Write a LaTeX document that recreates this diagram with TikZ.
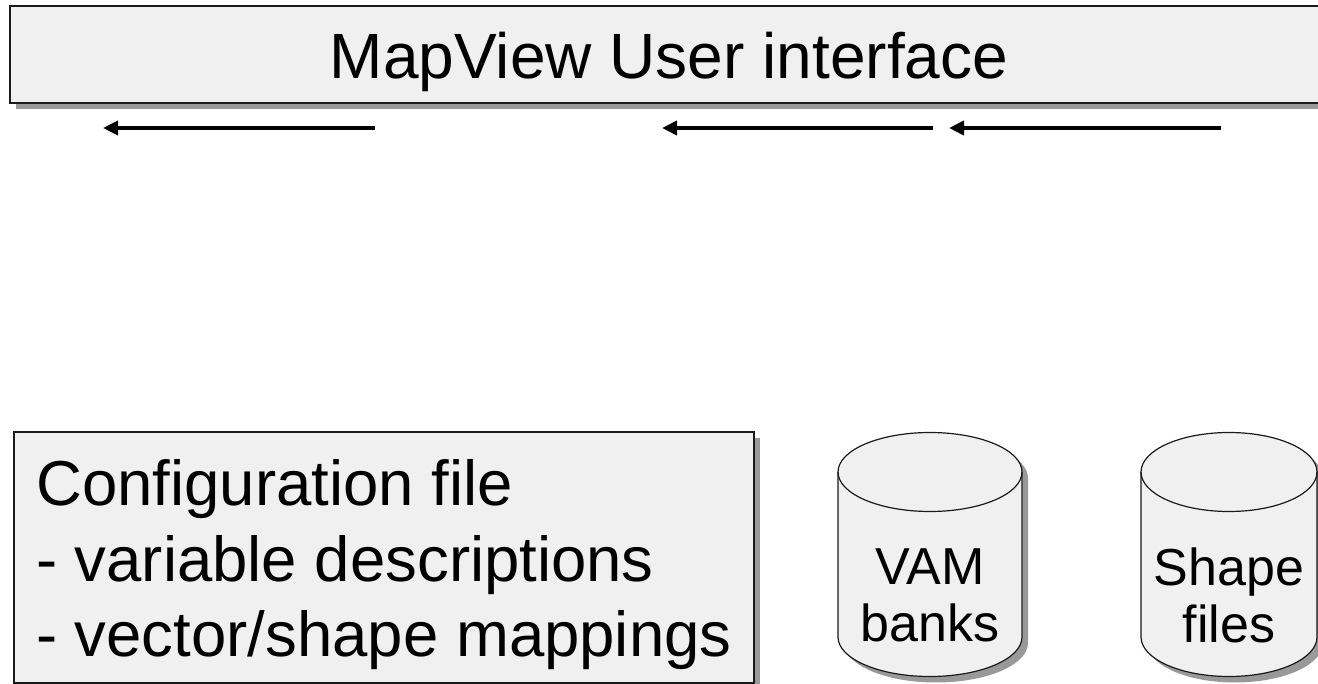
\documentclass[tikz,border=0pt]{standalone}
\usepackage{fontspec}
\setmainfont{Liberation Sans}
\usepackage{tikz}
\usetikzlibrary{arrows.meta,shadows}
\definecolor{boxfill}{RGB}{240,240,240}
\definecolor{shade}{RGB}{153,153,153}
\definecolor{edge}{RGB}{26,26,26}
\tikzset{panel/.style={draw=edge,line width=1.5pt,fill=boxfill,general shadow={fill=shade,draw=none,shadow xshift=6pt,shadow yshift=-6pt}}}
\tikzset{flow/.style={-{Triangle[length=15pt,width=14pt]},line width=4pt}}
\tikzset{big/.style={font=\fontsize{64}{75.5}\selectfont}}
\tikzset{cfg/.style={font=\fontsize{63.5}{75.5}\selectfont}}
\tikzset{small/.style={font=\fontsize{52}{57}\selectfont}}
% drum: #1 = x centre, #2 = x radius
\newcommand{\drum}[2]{%
  \draw[panel,line width=1.2pt] (#1-#2,472) -- (#1-#2,637)
    arc[start angle=180,end angle=360,x radius=#2pt,y radius=39.5pt] -- (#1+#2,472)
    arc[start angle=0,end angle=180,x radius=#2pt,y radius=39.5pt] -- cycle;
  \draw[draw=edge,line width=1.2pt] (#1-#2,472)
    arc[start angle=180,end angle=360,x radius=#2pt,y radius=39.5pt];
}

\begin{document}
\begin{tikzpicture}[x=1pt,y=-1pt]
    \useasboundingbox (0,0) rectangle (1318,684);
    \clip (0,0) rectangle (1318,684);
    \node[panel,big,minimum width=1318pt,minimum height=97pt,inner sep=0pt,text height=49pt,text depth=0pt] (ui) at (669,54.5) {MapView User interface};
    % arrows under the interface bar
    \coordinate (a1s) at (375,128);
    \coordinate (a1e) at (103,128);
    \coordinate (a2s) at (933,128);
    \coordinate (a2e) at (662,128);
    \coordinate (a3s) at (1221,128);
    \coordinate (a3e) at (949,128);
    \draw[flow] (a1s) -- (a1e);
    \draw[flow] (a2s) -- (a2e);
    \draw[flow] (a3s) -- (a3e);
    % config file
    \node[panel,minimum width=740pt,minimum height=251pt,inner sep=0pt] (config) at (384,557.5) {};
    \node[cfg,align=left,anchor=west,inner sep=0pt] (cfgtext) at (36,565) {Configuration file\\- variable descriptions\\- vector/shape mappings};
    % data stores
    \drum{930}{92}
    \drum{1229}{88}
    \node[small,align=center] (vam) at (930,595) {VAM\\banks};
    \node[small,align=center] (shp) at (1229,595) {Shape\\files};
\end{tikzpicture}
\end{document}
